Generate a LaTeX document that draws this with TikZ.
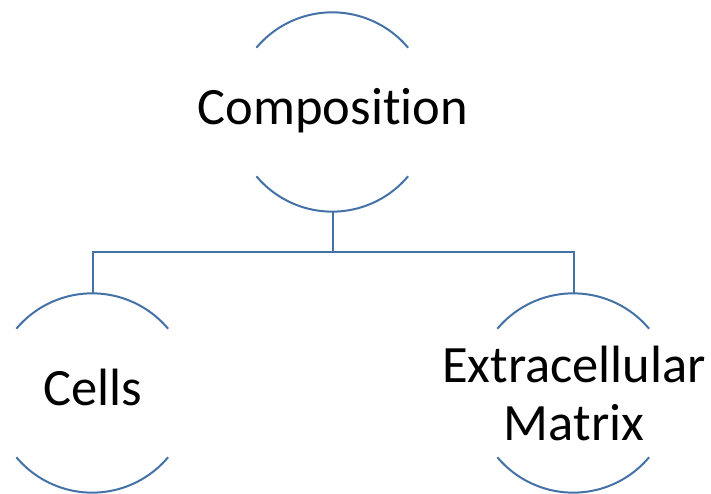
\documentclass[tikz,border=0pt]{standalone}
\usepackage{fontspec}
\setmainfont{Carlito}[Ligatures=NoCommon]
\usetikzlibrary{positioning}

\definecolor{ringblue}{RGB}{68,114,166}

\begin{document}
\begin{tikzpicture}[x=1pt, y=1pt, line width=2pt]
    \tikzset{
        ring/.style={circle, draw=none, inner sep=0pt, minimum size=198pt},
        word/.style={font=\fontsize{52.5}{58}\selectfont, align=center, inner sep=0pt},
        oneline/.style={word, text height=38pt, text depth=13pt}
    }
    \useasboundingbox (0,0) rectangle (711,494);

    % circles (only top and bottom arcs are drawn)
    \node[ring] (comp) at (333,382) {};
    \node[ring] (cells) at (93,101) {};
    \node[ring] (ecm) at (574,101) {};

    \foreach \c in {comp, cells, ecm} {
        \draw[ringblue] (\c.140) arc[start angle=140, end angle=40, radius=99];
        \draw[ringblue] (\c.220) arc[start angle=220, end angle=320, radius=99];
    }

    % labels
    \node[oneline] (compText) at (comp) {Composition};
    \node[oneline] (cellsText) at (cells) {Cells};
    \node[word] (ecmText) at (ecm) {Extracellular\\Matrix};

    % draw the tree connector
    \coordinate (bar) at (333,242);
    \draw[ringblue] (comp.south) -- (bar);
    \draw[ringblue] (cells.north) |- (bar) -| (ecm.north);

\end{tikzpicture}
\end{document}
